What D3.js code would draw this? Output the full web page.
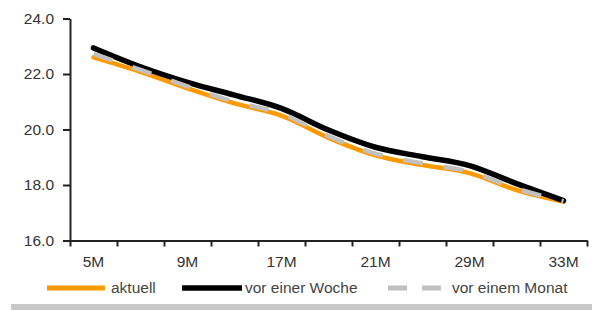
<!DOCTYPE html>
<html><head><meta charset="utf-8">
<script src="https://cdn.jsdelivr.net/npm/d3@7"></script>
<style>
html,body{margin:0;padding:0;background:#fff;}
svg{display:block;font-family:"Liberation Sans",Arial,sans-serif;}
</style></head>
<body>
<svg id="chart" width="598" height="311"></svg>
<script>
const categories = ["5M","7M","9M","13M","17M","19M","21M","25M","29M","31M","33M"];
const shownLabels = ["5M","9M","17M","21M","29M","33M"];
const aktuell      = [22.60,22.08,21.48,20.94,20.50,19.70,19.07,18.72,18.43,17.82,17.40];
const vorEinerWoche= [22.94,22.26,21.70,21.24,20.76,19.98,19.36,19.02,18.70,18.05,17.44];
const vorEinemMonat= [22.72,22.15,21.55,21.00,20.57,19.76,19.13,18.78,18.48,17.87,17.42];
const yTicks = [16,18,20,22,24];
const seriesNames = ["aktuell","vor einer Woche","vor einem Monat"];

const svg = d3.select("#chart");
const x = d3.scaleBand().domain(categories).range([70,587]).paddingInner(0).paddingOuter(0);
const xEdge = d3.scaleLinear().domain([0,categories.length]).range([70,587]);
const y = d3.scaleLinear().domain([16,24]).range([240.5,18.5]);

// y axis
const ya = svg.append("g").attr("transform","translate(70,0)")
  .call(d3.axisLeft(y).tickValues(yTicks).tickFormat(d3.format(".1f")).tickSize(7).tickSizeOuter(0).tickPadding(9));
ya.selectAll("path,line").attr("stroke","#222").attr("stroke-width",2);
ya.selectAll("text").attr("font-size","15.5px").attr("fill","#333");

// x axis ticks at band edges
const xt = svg.append("g").attr("transform","translate(0,240.5)")
  .call(d3.axisBottom(xEdge).tickValues(d3.range(categories.length+1)).tickFormat("").tickSize(6).tickSizeOuter(0));
xt.selectAll("path,line").attr("stroke","#222").attr("stroke-width",2);
// x labels
const xl = svg.append("g").attr("transform","translate(0,240.5)")
  .call(d3.axisBottom(x).tickSize(0).tickPadding(15).tickFormat(d => shownLabels.includes(d) ? d : ""));
xl.select(".domain").remove();
xl.selectAll("text").attr("font-size","15.5px").attr("fill","#333");

const line = d3.line().curve(d3.curveMonotoneX)
  .x((d,i)=>x(categories[i])+x.bandwidth()/2).y(d=>y(d));

svg.append("path").datum(aktuell).attr("d",line).attr("fill","none")
  .attr("stroke","#FF9900").attr("stroke-width",4.5).attr("stroke-linejoin","round").attr("stroke-linecap","round");
svg.append("path").datum(vorEinerWoche).attr("d",line).attr("fill","none")
  .attr("stroke","#000").attr("stroke-width",5.5).attr("stroke-linejoin","round").attr("stroke-linecap","round");
svg.append("path").datum(vorEinemMonat).attr("d",line).attr("fill","none")
  .attr("stroke","#C0C0C0").attr("stroke-width",4.5).attr("stroke-dasharray","20,21").attr("stroke-linejoin","round");

// legend
const lg = svg.append("g");
const ly = 288;
lg.append("line").attr("x1",47).attr("x2",105).attr("y1",ly).attr("y2",ly).attr("stroke","#FF9900").attr("stroke-width",5);
lg.append("text").attr("x",111).attr("y",ly+5).text(seriesNames[0]);
lg.append("line").attr("x1",182).attr("x2",242).attr("y1",ly).attr("y2",ly).attr("stroke","#000").attr("stroke-width",5.5);
lg.append("text").attr("x",245).attr("y",ly+5).text(seriesNames[1]);
lg.append("line").attr("x1",388).attr("x2",441).attr("y1",ly).attr("y2",ly).attr("stroke","#C0C0C0").attr("stroke-width",5).attr("stroke-dasharray","19,15");
lg.append("text").attr("x",452).attr("y",ly+5).text(seriesNames[2]);
lg.selectAll("text").attr("font-size","15.5px").attr("fill","#444");

// bottom rule
svg.append("rect").attr("x",11).attr("y",304).attr("width",581).attr("height",6).attr("fill","#C8C8C8");
</script>
</body></html>
